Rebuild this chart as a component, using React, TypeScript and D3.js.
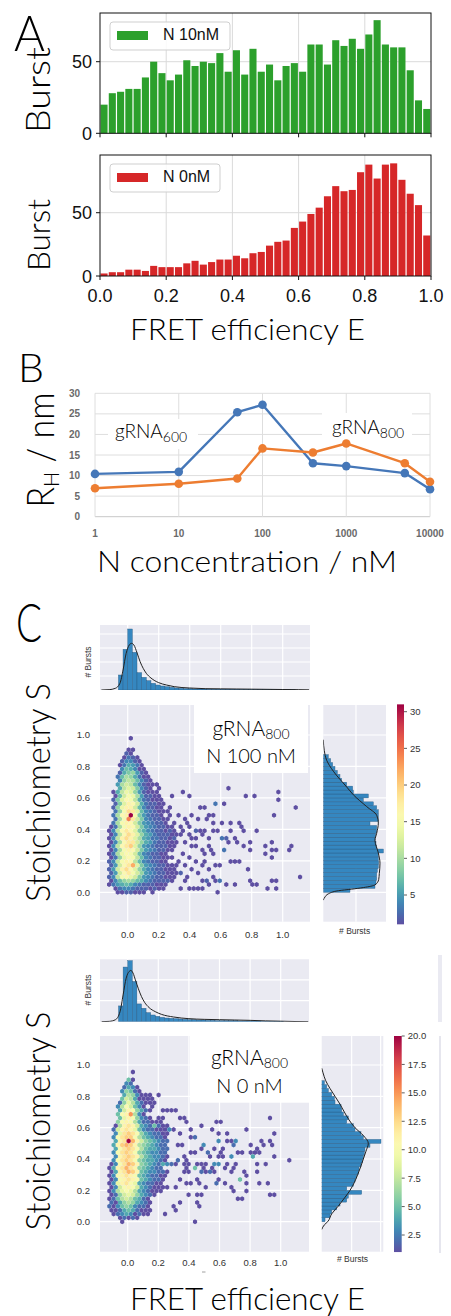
import React from "react";
import * as d3 from "d3";

const THIN = "Lato, 'Open Sans', sans-serif";
const SANS = "'Liberation Sans', Arial, sans-serif";

// ---------- Panel A : burst histograms (40 bins over E = 0..1)
const countsN10 = [20, 28, 29, 31, 31, 39, 50, 42, 37, 41, 51, 47, 50, 49, 56, 43, 58, 41, 59, 43,
  48, 37, 47, 49, 43, 62, 62, 48, 65, 61, 66, 59, 69, 79, 62, 60, 60, 44, 23, 17];
const countsN0 = [2, 3, 3, 5, 5, 4, 8, 7, 7, 7, 10, 12, 9, 11, 13, 13, 16, 14, 18, 19,
  24, 27, 28, 38, 43, 49, 54, 63, 71, 67, 68, 82, 88, 77, 88, 89, 76, 65, 56, 32];
const eTicks = [0, 0.2, 0.4, 0.6, 0.8, 1.0];
const burstTicks = [0, 50];

// ---------- Panel B : hydrodynamic radius vs N concentration
const concN = [1, 10, 50, 100, 400, 1000, 5000, 10000];
const rh600 = [10.4, 10.9, 25.4, 27.2, 13.0, 12.3, 10.6, 6.7];
const rh800 = [6.9, 8.0, 9.3, 16.6, 15.6, 17.8, 13.0, 8.5];
const rhTicks = [0, 5, 10, 15, 20, 25, 30];
const concTicks = [1, 10, 100, 1000, 10000];

// ---------- Panel C : E-S hexbin plots
// hex lattice: rows every 0.0245 in S, cells every 0.028 in E (odd rows shifted by half)
const hexDE = 0.028, hexDS = 0.0245, hexE0 = -0.12;
const sTicks = [0, 0.2, 0.4, 0.6, 0.8, 1.0];

// counts per row, top row (S = 0.98) first; '.' empty, base-36 digit = count
const hexRows100 = [
  ".....1", "", "", "....11", "....21", "...1321", "...24421", "..136531", "...476411",
  "..2689521", "..37a96311", "..49ba7421", "..5acb742111", "..6bdc8421.1", ".16bed952111",
  ".17cfea52211", ".28dgfb632111", ".28dhgc632211", ".29ehhc742211.1", ".39fjid7432111",
  ".3aghvf853221.1", ".3afoic8432211", ".3afhgc8543221.1", "13afhgc85432211.1",
  "14bgigd864322121.1", "14bgjhd9653222111", "14bhjhda65332212", "14agiic965322111",
  "14bgikd954322211", "14afhgc85432211", "13aegfc7432211", "139egfb74322111",
  "24bfhgb7432211", "25cgimd854322111", "25chjgd964322111", "25cgifc9543221111",
  "24bfgec854322111", "1479a9764322221", "13567643222111", ".134432221211", "..1122111.1",
];
// isolated cells: [E, S, count]
const hexScatter100 = [
  [0.29, 0.61, 1], [0.35, 0.63, 1], [0.41, 0.61, 1], [0.66, 0.655, 1], [0.75, 0.604, 1],
  [0.83, 0.604, 1], [0.96, 0.63, 1], [0.98, 0.58, 1], [1.07, 0.53, 1], [0.94, 0.5, 1],
  [0.58, 0.555, 3], [0.62, 0.575, 1], [0.49, 0.53, 1], [0.47, 0.53, 1], [0.54, 0.48, 1],
  [0.34, 0.5, 1], [0.41, 0.5, 1], [0.52, 0.5, 1], [0.6, 0.45, 1], [0.66, 0.45, 1],
  [0.72, 0.45, 1], [0.73, 0.425, 1], [0.75, 0.4, 1], [0.82, 0.38, 1], [0.66, 0.4, 1],
  [0.55, 0.4, 1], [0.58, 0.4, 1], [0.5, 0.4, 1], [0.53, 0.35, 1], [0.6, 0.35, 3],
  [0.63, 0.35, 2], [0.65, 0.325, 1], [0.71, 0.31, 1], [0.69, 0.34, 1], [0.79, 0.31, 1],
  [0.92, 0.33, 1], [0.89, 0.3, 1], [0.93, 0.27, 1], [0.96, 0.27, 1], [0.89, 0.245, 1],
  [1.06, 0.3, 1], [1.04, 0.275, 1], [0.79, 0.275, 1], [0.75, 0.3, 1], [0.62, 0.275, 3],
  [0.54, 0.27, 1], [0.55, 0.245, 1], [0.51, 0.3, 1], [0.49, 0.245, 1], [0.93, 0.22, 1],
  [0.66, 0.196, 1], [0.69, 0.196, 1], [0.72, 0.196, 1], [0.57, 0.17, 1], [0.59, 0.17, 1],
  [0.78, 0.147, 1], [0.79, 0.074, 1], [0.8, 0.049, 1], [0.83, 0.049, 1], [0.93, 0.074, 1],
  [0.96, 0.074, 1], [1.11, 0.098, 1], [0.9, 0.025, 1], [0.96, 0.025, 1], [0.64, 0.049, 1],
  [0.58, 0.0, 1], [0.57, 0.074, 1], [0.59, 0.074, 3], [0.69, 0.049, 1], [0.34, 0.025, 1],
  [0.4, 0.025, 1], [0.43, 0.025, 1], [0.45, 0.025, 1], [0.48, 0.025, 1], [0.47, 0.074, 1],
  [0.51, 0.074, 2], [0.38, 0.098, 1], [0.45, 0.12, 1], [0.55, 0.098, 1], [0.52, 0.049, 1],
  [0.37, 0.44, 1], [0.4, 0.42, 1], [0.43, 0.4, 2], [0.46, 0.38, 1], [0.39, 0.37, 1],
  [0.42, 0.35, 1], [0.45, 0.34, 1], [0.48, 0.36, 1], [0.37, 0.32, 1], [0.4, 0.3, 1],
  [0.44, 0.29, 1], [0.47, 0.27, 1], [0.36, 0.25, 1], [0.4, 0.22, 1], [0.43, 0.2, 1],
  [0.34, 0.2, 1], [0.38, 0.17, 1], [0.42, 0.15, 1], [0.35, 0.13, 1], [0.48, 0.17, 1],
  [0.5, 0.2, 1], [0.52, 0.15, 1], [0.36, 0.07, 1], [0.55, 0.45, 1], [0.5, 0.46, 1],
  [0.44, 0.47, 1], [0.38, 0.46, 1],
];

const hexRows0 = [
  "", ".....1", "", "....51", "....32", "...2431", "...36521", "...4763111.1", "...58741111",
  "..269742111", "..37a8531.1", "..48ba6421", "..5abf731", "..59ba6321", "..6aba7422111",
  ".17bcb84321211", ".28bcb953221111", ".39cdca6432211", ".3acdda7543221", ".4bckeb8654322",
  ".4bdedb7654322", ".4acdca7544322", ".3acdca6543322", ".3bcdcb7543321", ".3acdca6544321",
  "13acedb6543221", "14bcecb654322", "14bcedb5433221", "13abcba5432211", "13abcba543221",
  "139bca9432211", "138aba8432111", "1379a97432111", "12689864321", "1257875421",
  "2146764321", "2135653221", "1124542111", ".123431211", "..12121", "...1",
];
const hexScatter0 = [
  [0.22, 0.71, 1], [0.25, 0.7, 1], [0.28, 0.71, 1], [0.31, 0.71, 1], [0.2, 0.66, 1],
  [0.24, 0.65, 1], [0.33, 0.67, 1], [0.36, 0.65, 1], [0.39, 0.63, 1], [0.42, 0.6, 1],
  [0.47, 0.61, 1], [0.55, 0.6, 1], [0.59, 0.63, 1], [0.62, 0.63, 1], [0.78, 0.6, 1],
  [0.94, 0.65, 1], [0.95, 0.553, 1], [0.6, 0.575, 1], [0.64, 0.564, 1], [0.17, 0.61, 4],
  [0.3, 0.58, 1], [0.27, 0.6, 2], [0.35, 0.56, 1], [0.4, 0.55, 1], [0.43, 0.54, 1],
  [0.45, 0.53, 1], [0.59, 0.526, 3], [0.65, 0.526, 1], [0.69, 0.526, 1], [0.71, 0.526, 3],
  [0.88, 0.526, 1], [0.93, 0.526, 1], [0.68, 0.5, 1], [0.7, 0.5, 1], [0.8, 0.5, 1],
  [0.5, 0.5, 3], [0.32, 0.5, 1], [0.35, 0.49, 1], [0.48, 0.47, 1], [0.57, 0.475, 1],
  [0.625, 0.475, 1], [0.61, 0.447, 1], [0.72, 0.45, 1], [0.75, 0.45, 1], [0.8, 0.45, 1],
  [0.83, 0.45, 1], [0.85, 0.46, 1], [0.865, 0.45, 1], [0.817, 0.426, 4], [0.9, 0.48, 1],
  [0.93, 0.48, 1], [0.6, 0.426, 1], [0.625, 0.426, 1], [0.68, 0.426, 3], [0.54, 0.426, 1],
  [0.45, 0.44, 1], [0.52, 0.45, 2], [0.96, 0.425, 1], [1.05, 0.4, 1], [0.38, 0.42, 1],
  [0.41, 0.43, 1], [0.516, 0.377, 1], [0.494, 0.355, 1], [0.57, 0.377, 3], [0.59, 0.377, 3],
  [0.647, 0.377, 1], [0.7, 0.377, 1], [0.85, 0.377, 1], [0.9, 0.377, 1], [0.56, 0.347, 1],
  [0.58, 0.33, 1], [0.55, 0.32, 2], [0.636, 0.35, 1], [0.68, 0.33, 1], [0.695, 0.355, 1],
  [0.767, 0.326, 1], [0.778, 0.298, 1], [0.85, 0.326, 1], [0.34, 0.38, 2], [0.39, 0.38, 1],
  [0.22, 0.37, 2], [0.25, 0.37, 2], [0.28, 0.37, 2], [0.31, 0.37, 1], [0.36, 0.37, 1],
  [0.4, 0.37, 1], [0.44, 0.37, 1], [0.47, 0.37, 1], [0.44, 0.336, 5], [0.38, 0.34, 1],
  [0.41, 0.33, 1], [0.47, 0.32, 2], [0.5, 0.31, 1], [0.36, 0.31, 1], [0.73, 0.27, 5],
  [0.47, 0.256, 1], [0.516, 0.224, 1], [0.57, 0.25, 2], [0.636, 0.25, 1], [0.68, 0.224, 1],
  [0.695, 0.202, 1], [0.778, 0.25, 1], [0.778, 0.198, 1], [0.86, 0.25, 1], [0.92, 0.25, 1],
  [0.483, 0.177, 1], [0.73, 0.15, 1], [0.75, 0.15, 1], [0.93, 0.177, 1], [0.956, 0.177, 1],
  [0.38, 0.255, 1], [0.41, 0.255, 1], [0.27, 0.22, 1], [0.31, 0.22, 1], [0.4, 0.165, 1],
  [0.45, 0.17, 1], [0.33, 0.27, 1], [0.44, 0.28, 1], [0.6, 0.28, 1], [0.47, 0.1, 1],
  [0.29, 0.09, 1], [0.31, 0.085, 1], [0.444, 0.0, 1], [0.25, 0.06, 1], [0.33, 0.12, 1],
  [0.44, 0.12, 1],
];

// marginal E histograms: bins of 0.03 starting at E = -0.06
const topBars100 = [45, 122, 183, 113, 52, 38, 28, 20, 15, 12, 10, 8, 6, 5, 4, 4, 3, 3, 3, 2,
  2, 2, 2, 2, 2, 2, 1, 1, 1, 1, 1, 1, 1, 1, 1, 1, 1, 1, 0, 0, 0];
const topBars0 = [47, 163, 182, 120, 53, 40, 27, 20, 16, 13, 11, 10, 9, 8, 7, 6, 6, 5, 5, 4,
  4, 3, 3, 3, 3, 3, 2, 2, 2, 2, 2, 1, 1, 1, 1, 1, 0, 0, 0, 0, 0];
const topKde100 = [[-0.17, 0], [-0.12, 1], [-0.08, 5], [-0.05, 20], [-0.03, 60], [-0.01, 110],
  [0.01, 135], [0.025, 140], [0.04, 135], [0.06, 112], [0.08, 85], [0.1, 65], [0.12, 50],
  [0.15, 36], [0.2, 22], [0.25, 15], [0.3, 10], [0.4, 6], [0.5, 4], [0.6, 3.5], [0.7, 3],
  [0.8, 2.5], [0.9, 2], [1.0, 1.5], [1.1, 1], [1.17, 0.5]];
const topKde0 = [[-0.17, 0], [-0.12, 1], [-0.08, 6], [-0.05, 30], [-0.03, 80], [-0.01, 130],
  [0.01, 150], [0.02, 153], [0.035, 145], [0.05, 125], [0.07, 98], [0.09, 75], [0.11, 58],
  [0.14, 42], [0.18, 30], [0.22, 22], [0.3, 14], [0.4, 9], [0.5, 7], [0.6, 6], [0.7, 5],
  [0.8, 4], [0.9, 2.5], [1.0, 1.5], [1.1, 0.5], [1.18, 0]];

// marginal S histograms: bins of 0.025 starting at S = 0
const rightBars100 = [80, 155, 158, 160, 160, 162, 165, 166, 165, 165, 180, 160, 158, 155, 157,
  160, 160, 140, 165, 165, 165, 160, 150, 120, 135, 90, 88, 70, 55, 50, 42, 35, 28, 22, 15];
const rightBars0 = [10, 25, 30, 45, 55, 75, 80, 120, 75, 95, 100, 105, 110, 112, 118, 122, 125,
  128, 130, 145, 178, 125, 118, 100, 95, 75, 80, 65, 60, 58, 40, 38, 30, 20, 15, 8];
const rightKde100 = [[-0.05, 0], [-0.03, 5], [-0.01, 15], [0.01, 45], [0.02, 85], [0.03, 120],
  [0.047, 155], [0.08, 166], [0.12, 168], [0.185, 170], [0.25, 165], [0.33, 155], [0.375, 160],
  [0.44, 165], [0.49, 160], [0.545, 130], [0.62, 90], [0.67, 70], [0.77, 30], [0.84, 10],
  [0.9, 3], [0.97, 0]];
const rightKde0 = [[-0.05, 0], [-0.02, 8], [0, 18], [0.05, 30], [0.1, 50], [0.15, 68], [0.2, 85],
  [0.25, 98], [0.3, 108], [0.35, 117], [0.4, 125], [0.45, 133], [0.5, 140], [0.55, 125],
  [0.6, 100], [0.65, 82], [0.7, 68], [0.75, 55], [0.8, 40], [0.85, 25], [0.9, 12], [0.95, 4],
  [0.98, 0]];

const cbTicks100 = [5, 10, 15, 20, 25, 30];
const cbTicks0 = [2.5, 5, 7.5, 10, 12.5, 15, 17.5, 20];

// ------------------------------------------------------------------

function BurstHist({ counts, color, label, top, bottom, yMax, legendW, xLabels }: any) {
  const x = d3.scaleLinear().domain([0, 1]).range([100, 431]);
  const y = d3.scaleLinear().domain([0, yMax]).range([bottom, top]);
  const bw = 1 / counts.length;
  return (
    <g>
      {eTicks.slice(1, -1).map((t) => (
        <line key={t} x1={x(t)} x2={x(t)} y1={top} y2={bottom} stroke="#dadada" />
      ))}
      <line x1={100} x2={431} y1={y(50)} y2={y(50)} stroke="#dadada" />
      {counts.map((c: number, i: number) => (
        <rect key={i} x={x(i * bw) + 0.5} width={x(bw) - x(0) - 1.2} y={y(c)} height={y(0) - y(c)} fill={color} />
      ))}
      <rect x={100} y={top} width={331} height={bottom - top} fill="none" stroke="#111" strokeWidth={1} />
      {eTicks.map((t) => (
        <g key={t}>
          <line x1={x(t)} x2={x(t)} y1={bottom} y2={bottom + 4} stroke="#111" />
          {xLabels && (
            <text x={x(t)} y={bottom + 25.7} textAnchor="middle" fontSize={18} fontFamily={SANS} fill="#111">
              {t.toFixed(1)}
            </text>
          )}
        </g>
      ))}
      {burstTicks.map((t) => (
        <g key={t}>
          <line x1={96} x2={100} y1={y(t)} y2={y(t)} stroke="#111" />
          <text x={92} y={y(t) + 6.5} textAnchor="end" fontSize={18} fontFamily={SANS} fill="#111">{t}</text>
        </g>
      ))}
      <rect x={110} y={top + 9} width={legendW} height={28} rx={3} fill="#fff" fillOpacity={0.85} stroke="#cfcfcf" />
      <rect x={117} y={top + 18} width={31} height={9} fill={color} />
      <text x={163} y={top + 27} fontSize={16} fontFamily={SANS} fill="#111">{label}</text>
    </g>
  );
}

function PanelA() {
  return (
    <g>
      <text x={14} y={51} fontSize={50} fontFamily={THIN} fontWeight={300} textLength={31} lengthAdjust="spacingAndGlyphs">A</text>
      <BurstHist counts={countsN10} color="#2ca02c" label="N 10nM" top={13} bottom={133.3} yMax={84} legendW={120} xLabels={false} />
      <BurstHist counts={countsN0} color="#d62728" label="N 0nM" top={155} bottom={276} yMax={95.6} legendW={110} xLabels={true} />
      <text transform="translate(50,90) rotate(-90)" textAnchor="middle" fontSize={34} fontFamily={THIN} fontWeight={300} textLength={86} lengthAdjust="spacingAndGlyphs">Burst</text>
      <text transform="translate(50,235) rotate(-90)" textAnchor="middle" fontSize={32} fontFamily={THIN} fontWeight={300} textLength={72} lengthAdjust="spacingAndGlyphs">Burst</text>
      <text x={247.5} y={340} textAnchor="middle" fontSize={30} fontFamily={THIN} fontWeight={300} textLength={235} lengthAdjust="spacingAndGlyphs">FRET efficiency E</text>
    </g>
  );
}

function PanelB() {
  const x = d3.scaleLog().domain([1, 10000]).range([95, 430]);
  const y = d3.scaleLinear().domain([0, 30]).range([516.7, 393.3]);
  const mk = (vals: number[]) =>
    d3.line<number>().x((_, i) => x(concN[i])).y((d) => y(d))(vals) || "";
  const series = [
    { vals: rh600, color: "#4577b8" },
    { vals: rh800, color: "#ed7d31" },
  ];
  return (
    <g>
      <text x={18} y={382} fontSize={40} fontFamily={THIN} fontWeight={300} textLength={26} lengthAdjust="spacingAndGlyphs">B</text>
      {rhTicks.map((t) => (
        <g key={t}>
          <line x1={95} x2={430} y1={y(t)} y2={y(t)} stroke={t === 0 ? "#c8c8c8" : "#dedede"} />
          <text x={80} y={y(t) + 3.5} textAnchor="end" fontSize={10} fontWeight="bold" fontFamily={SANS} fill="#6a6a6a">{t}</text>
        </g>
      ))}
      {concTicks.map((t) => (
        <g key={t}>
          <line x1={x(t)} x2={x(t)} y1={y(0)} y2={y(30)} stroke="#dedede" />
          <text x={x(t)} y={536.5} textAnchor="middle" fontSize={10} fontWeight="bold" fontFamily={SANS} fill="#6a6a6a">{t}</text>
        </g>
      ))}
      <rect x={108} y={419} width={90} height={30} fill="#fff" />
      <rect x={322} y={413} width={90} height={31} fill="#fff" />
      {series.map((s, k) => (
        <g key={k}>
          <path d={mk(s.vals)} fill="none" stroke={s.color} strokeWidth={2.4} strokeLinejoin="round" />
          {s.vals.map((v, i) => (
            <circle key={i} cx={x(concN[i])} cy={y(v)} r={4.3} fill={s.color} />
          ))}
        </g>
      ))}
      <text x={115} y={437.5} fontSize={19} fontFamily={THIN} fontWeight={300}>
        gRNA<tspan fontSize={14} dy={4}>600</tspan>
      </text>
      <text x={332} y={434} fontSize={19} fontFamily={THIN} fontWeight={300}>
        gRNA<tspan fontSize={14} dy={4}>800</tspan>
      </text>
      <text transform="translate(54,450) rotate(-90)" textAnchor="middle" fontSize={37} fontFamily={THIN} fontWeight={300} textLength={115} lengthAdjust="spacingAndGlyphs">
        R<tspan fontSize={22} dy={5}>H</tspan><tspan dy={-5}> / nm</tspan>
      </text>
      <text x={247} y={572} textAnchor="middle" fontSize={30} fontFamily={THIN} fontWeight={300} textLength={300} lengthAdjust="spacingAndGlyphs">N concentration / nM</text>
    </g>
  );
}

function hexCells(rows: string[], scatter: number[][]) {
  const m = new Map<string, { j: number; i: number; n: number }>();
  const add = (j: number, i: number, n: number) => {
    const k = j + "_" + i;
    const c = m.get(k);
    if (c) c.n += n;
    else m.set(k, { j, i, n });
  };
  rows.forEach((r, idx) => {
    const j = rows.length - 1 - idx;
    r.split("").forEach((ch, i) => {
      if (ch !== ".") add(j, i, parseInt(ch, 36));
    });
  });
  scatter.forEach(([e, s, n]) => {
    const j = Math.round(s / hexDS);
    const off = hexE0 + (j % 2 ? hexDE / 2 : 0);
    add(j, Math.round((e - off) / hexDE), n);
  });
  return Array.from(m.values())
    .map((c) => ({ e: hexE0 + (c.j % 2 ? hexDE / 2 : 0) + c.i * hexDE, s: c.j * hexDS, n: c.n }))
    .sort((a, b) => a.n - b.n);
}

const BG = "#eaeaf2";
const HISTBLUE = "#3587c0";

function Joint({ cfg }: any) {
  const x = d3.scaleLinear().domain([0, 1]).range(cfg.ex);
  const y = d3.scaleLinear().domain([0, 1]).range(cfg.sy);
  const [bx0, bx1, by0, by1] = cfg.box;
  const cells = hexCells(cfg.rows, cfg.scatter);
  const col = (n: number) =>
    d3.interpolateSpectral(1 - Math.max(0, Math.min(1, (n - cfg.cb.min) / (cfg.cb.max - cfg.cb.min))));
  const w = (x(hexDE) - x(0)) * 0.97;
  const sy = (y(0) - y(2 * hexDS)) * 0.97;
  const hex = `M0,${-sy / 3}L${w / 2},${-sy / 6}L${w / 2},${sy / 6}L0,${sy / 3}L${-w / 2},${sy / 6}L${-w / 2},${-sy / 6}Z`;

  // top marginal
  const [ty0, ty1] = cfg.top;
  const yT = d3.scaleLinear().domain([0, cfg.topMax]).range([ty1, ty0]);
  const topLine = d3.line<number[]>().x((d) => x(d[0])).y((d) => yT(d[1])).curve(d3.curveMonotoneX)(cfg.topKde) || "";
  // right marginal
  const [rx0, rx1] = cfg.right;
  const xR = d3.scaleLinear().domain([0, cfg.rightMax]).range([rx0, rx1]);
  const rightLine = d3.line<number[]>().x((d) => xR(d[1])).y((d) => y(d[0])).curve(d3.curveMonotoneY)(cfg.rightKde) || "";
  // colorbar
  const cb = cfg.cb;
  const yC = d3.scaleLinear().domain([cb.ref[0], cb.ref[2]]).range([cb.ref[1], cb.ref[3]]);
  const gid = "grad" + cfg.id;
  const tickFont = { fontSize: 9.5, fontFamily: SANS, fill: "#333" };

  return (
    <g>
      <defs>
        <clipPath id={"main" + cfg.id}><rect x={bx0} y={by0} width={bx1 - bx0} height={by1 - by0} /></clipPath>
        <clipPath id={"top" + cfg.id}><rect x={bx0} y={ty0} width={bx1 - bx0} height={ty1 - ty0} /></clipPath>
        <clipPath id={"right" + cfg.id}><rect x={rx0} y={by0} width={rx1 - rx0} height={by1 - by0} /></clipPath>
        <linearGradient id={gid} x1="0" y1="0" x2="0" y2="1">
          {d3.range(0, 1.0001, 0.05).map((o) => (
            <stop key={o} offset={o} stopColor={d3.interpolateSpectral(o)} />
          ))}
        </linearGradient>
      </defs>

      {/* main hexbin */}
      <rect x={bx0} y={by0} width={bx1 - bx0} height={by1 - by0} fill={BG} />
      {eTicks.map((t) => <line key={"v" + t} x1={x(t)} x2={x(t)} y1={by0} y2={by1} stroke="#fff" strokeWidth={1.2} />)}
      {sTicks.map((t) => <line key={"h" + t} x1={bx0} x2={bx1} y1={y(t)} y2={y(t)} stroke="#fff" strokeWidth={1.2} />)}
      <g clipPath={`url(#main${cfg.id})`}>
        {cells.map((c, k) => (
          <path key={k} d={hex} transform={`translate(${x(c.e)},${y(c.s)})`} fill={col(c.n)} />
        ))}
      </g>
      <rect x={cfg.ann.x0} y={cfg.ann.y0} width={cfg.ann.x1 - cfg.ann.x0} height={cfg.ann.y1 - cfg.ann.y0} fill="#fff" />
      <text x={(cfg.ann.x0 + cfg.ann.x1) / 2} y={cfg.ann.b1} textAnchor="middle" fontSize={21} fontFamily={THIN} fontWeight={300}>
        gRNA<tspan fontSize={14} dy={3}>800</tspan>
      </text>
      <text x={(cfg.ann.x0 + cfg.ann.x1) / 2} y={cfg.ann.b2} textAnchor="middle" fontSize={20} fontFamily={THIN} fontWeight={300}>
        {cfg.ann.line2}
      </text>
      {eTicks.map((t) => (
        <text key={"xl" + t} x={x(t)} y={cfg.tickY} textAnchor="middle" {...tickFont}>{t.toFixed(1)}</text>
      ))}
      {sTicks.map((t) => (
        <text key={"yl" + t} x={90} y={y(t) + 3.4} textAnchor="end" {...tickFont}>{t.toFixed(1)}</text>
      ))}

      {/* top marginal */}
      <rect x={bx0} y={ty0} width={bx1 - bx0} height={ty1 - ty0} fill={BG} />
      {eTicks.map((t) => <line key={"tv" + t} x1={x(t)} x2={x(t)} y1={ty0} y2={ty1} stroke="#fff" strokeWidth={1.2} />)}
      {cfg.topGrid.map((t: number) => <line key={"th" + t} x1={bx0} x2={bx1} y1={yT(t)} y2={yT(t)} stroke="#fff" strokeWidth={1.2} />)}
      <g clipPath={`url(#top${cfg.id})`}>
        {cfg.topBars.map((v: number, i: number) =>
          v > 0 ? (
            <rect key={i} x={x(-0.06 + i * 0.03)} width={x(0.03) - x(0)} y={yT(v)} height={yT(0) - yT(v)} fill={HISTBLUE} stroke="#2a5a82" strokeWidth={0.4} />
          ) : null
        )}
        <path d={topLine} fill="none" stroke="#222" strokeWidth={1} />
      </g>
      <text transform={`translate(91,${cfg.burstTopY}) rotate(-90)`} textAnchor="middle" fontSize={8.5} fontFamily={SANS} fill="#333"># Bursts</text>

      {/* right marginal */}
      <rect x={rx0} y={by0} width={rx1 - rx0} height={by1 - by0} fill={BG} />
      {sTicks.map((t) => <line key={"rh" + t} x1={rx0} x2={rx1} y1={y(t)} y2={y(t)} stroke="#fff" strokeWidth={1.2} />)}
      {cfg.rightGrid.map((t: number) => <line key={"rv" + t} x1={xR(t)} x2={xR(t)} y1={by0} y2={by1} stroke="#fff" strokeWidth={1.2} />)}
      <g clipPath={`url(#right${cfg.id})`}>
        {cfg.rightBars.map((v: number, i: number) => (
          <rect key={i} x={rx0} width={xR(v) - rx0} y={y((i + 1) * 0.025)} height={y(i * 0.025) - y((i + 1) * 0.025)} fill={HISTBLUE} stroke="#2a5a82" strokeWidth={0.4} />
        ))}
        <path d={rightLine} fill="none" stroke="#222" strokeWidth={1} />
      </g>
      <text x={(rx0 + rx1) / 2} y={cfg.burstY} textAnchor="middle" fontSize={8.5} fontFamily={SANS} fill="#333"># Bursts</text>

      {/* colorbar */}
      <rect x={cb.x} width={cb.w} y={yC(cb.max)} height={yC(cb.min) - yC(cb.max)} fill={`url(#${gid})`} />
      {cb.ticks.map((t: number) => (
        <g key={"cb" + t}>
          <line x1={cb.x + cb.w} x2={cb.x + cb.w + 3} y1={yC(t)} y2={yC(t)} stroke="#333" strokeWidth={0.8} />
          <text x={cb.x + cb.w + 6} y={yC(t) + 3.4} {...tickFont}>{t.toFixed(cb.digits)}</text>
        </g>
      ))}

      <text transform={`translate(50,${cfg.labelY}) rotate(-90)`} textAnchor="middle" fontSize={34} fontFamily={THIN} fontWeight={300} textLength={219} lengthAdjust="spacingAndGlyphs">Stoichiometry S</text>
    </g>
  );
}

const joint100 = {
  id: "a", ex: [127.7, 282.7], sy: [892.3, 735], box: [100, 310, 705, 921.7],
  top: [625, 690], topMax: 195, topGrid: [42, 84, 126, 168],
  right: [323.3, 386], rightMax: 188, rightGrid: [98],
  cb: { x: 397, w: 7, min: 1, max: 31, ref: [5, 895, 30, 711.7], ticks: cbTicks100, digits: 0 },
  ann: { x0: 194, x1: 308, y0: 705, y1: 773, b1: 736, b2: 763, line2: "N 100 nM" },
  tickY: 937.5, burstY: 934, burstTopY: 662, labelY: 792.5,
  rows: hexRows100, scatter: hexScatter100, topBars: topBars100, topKde: topKde100,
  rightBars: rightBars100, rightKde: rightKde100,
};

const joint0 = {
  id: "b", ex: [127.7, 280.7], sy: [1221.7, 1065], box: [100, 309, 1036, 1251.7],
  top: [958, 1021.7], topMax: 190, topGrid: [63, 125, 188],
  right: [321.7, 383.3], rightMax: 185, rightGrid: [90, 177],
  cb: { x: 394, w: 7.7, min: 1, max: 20, ref: [2.5, 1235, 20, 1036], ticks: cbTicks0, digits: 1 },
  ann: { x0: 190, x1: 309, y0: 1036, y1: 1102.7, b1: 1064.5, b2: 1092.5, line2: "N 0 nM" },
  tickY: 1266, burstY: 1262, burstTopY: 990, labelY: 1121,
  rows: hexRows0, scatter: hexScatter0, topBars: topBars0, topKde: topKde0,
  rightBars: rightBars0, rightKde: rightKde0,
};

export default function App() {
  return (
    <svg width={451} height={1316} style={{ position: "absolute", left: 0, top: 0, background: "#fff" }}>
      <rect width={451} height={1316} fill="#fff" />
      <PanelA />
      <PanelB />
      <text x={16} y={642} fontSize={54} fontFamily={THIN} fontWeight={300} textLength={26} lengthAdjust="spacingAndGlyphs">C</text>
      <Joint cfg={joint100} />
      <Joint cfg={joint0} />
      <rect x={438} y={955} width={4} height={67} fill={BG} />
      <rect x={439} y={1036} width={2} height={217} fill="#e6e6ee" />
      <line x1={202} x2={205.5} y1={1272} y2={1272} stroke="#888" strokeWidth={0.8} />
      <text x={247.5} y={1310} textAnchor="middle" fontSize={32} fontFamily={THIN} fontWeight={300} textLength={235} lengthAdjust="spacingAndGlyphs">FRET efficiency E</text>
    </svg>
  );
}
